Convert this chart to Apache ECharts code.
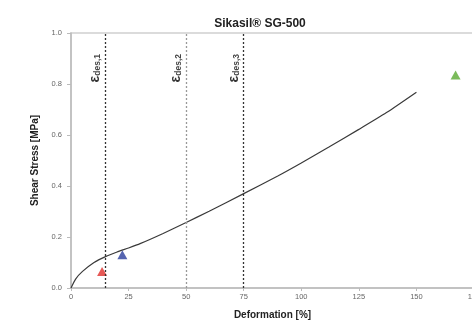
<!DOCTYPE html>
<html>
<head>
<meta charset="utf-8">
<script src="https://cdn.jsdelivr.net/npm/echarts@6/dist/echarts.min.js"></script>
<style>html,body{margin:0;padding:0;background:#fff}#c{width:472px;height:325px}</style>
</head>
<body>
<div id="c"></div>
<script>
var curveX = [0, 2, 5, 10, 15, 20, 25, 30, 40, 50, 60, 75, 90, 100, 112, 125, 137, 150];
var curveY = [0, 0.035, 0.065, 0.1, 0.123, 0.141, 0.157, 0.174, 0.214, 0.257, 0.301, 0.37, 0.44, 0.49, 0.553, 0.622, 0.688, 0.768];
var desX = [15, 50, 75];
var desLabels = ['des,1', 'des,2', 'des,3'];
var desColors = ['#333', '#999', '#333'];
var pointsX = [13.5, 22.3, 167];
var pointsY = [0.065, 0.13, 0.835];
var pointColors = ['#e0302c', '#2b3d9c', '#5aaa32'];
var xTicks = [0, 25, 50, 75, 100, 125, 150, 175];
var yTicks = [0, 0.2, 0.4, 0.6, 0.8, 1.0];

var FONT = 'Liberation Sans';
var chart = echarts.init(document.getElementById('c'));

var curve = curveX.map(function (x, i) { return [x, curveY[i]]; });

var markData = desX.map(function (x, i) {
  return [
    { coord: [x, 0] },
    {
      coord: [x, 1],
      lineStyle: { color: desColors[i], type: [2, 2], width: 1.3 },
      label: {
        show: true,
        position: 'insideEndTop',
        distance: [21, 3],
        formatter: '{e|ε}{s|' + desLabels[i] + '}',
        rich: {
          e: { fontSize: 14, fontWeight: 'bold', color: '#333', fontFamily: FONT },
          s: { fontSize: 8.5, fontWeight: 'bold', color: '#444', fontFamily: FONT, verticalAlign: 'bottom', padding: [5, 0, 0, 0] }
        }
      }
    }
  ];
});

var series = [
  {
    type: 'line',
    data: curve,
    smooth: 0.2,
    showSymbol: false,
    lineStyle: { color: '#3a3a3a', width: 1.2 },
    z: 3,
    markLine: {
      silent: true,
      symbol: 'none',
      animation: false,
      data: markData
    }
  }
];
pointsX.forEach(function (x, i) {
  series.push({
    type: 'scatter',
    data: [[x, pointsY[i]]],
    symbol: 'triangle',
    symbolSize: [10, 9],
    itemStyle: { color: pointColors[i] },
    z: 4
  });
});

chart.setOption({
  animation: false,
  title: {
    text: 'Sikasil® SG-500',
    left: 255,
    textAlign: 'center',
    top: 13,
    textStyle: { fontSize: 12, fontWeight: 'bold', color: '#222', fontFamily: FONT }
  },
  grid: {
    left: 71, top: 33, bottom: 37, right: -2,
    outerBoundsMode: 'none',
    containLabel: false,
    show: true, borderColor: '#cfcfcf', borderWidth: 1.5, backgroundColor: 'transparent'
  },
  xAxis: {
    type: 'value',
    min: xTicks[0], max: xTicks[xTicks.length - 1], interval: 25,
    name: 'Deformation [%]',
    nameLocation: 'middle',
    nameGap: 22,
    nameTextStyle: { fontSize: 10, fontWeight: 'bold', color: '#222', fontFamily: FONT },
    axisLine: { show: true, lineStyle: { color: '#bbb', width: 1.5 } },
    axisTick: { show: true, length: 3, lineStyle: { color: '#bbb' } },
    axisLabel: { fontSize: 7.5, color: '#666', margin: 5, fontFamily: FONT },
    splitLine: { show: false }
  },
  yAxis: {
    type: 'value',
    min: yTicks[0], max: yTicks[yTicks.length - 1], interval: 0.2,
    name: 'Shear Stress [MPa]',
    nameLocation: 'middle',
    nameGap: 27,
    nameTextStyle: { fontSize: 10, fontWeight: 'bold', color: '#222', fontFamily: FONT },
    axisLine: { show: true, lineStyle: { color: '#bbb', width: 1.5 } },
    axisTick: { show: true, length: 4, lineStyle: { color: '#bbb' } },
    axisLabel: { fontSize: 7.5, color: '#666', margin: 9, fontFamily: FONT,
      formatter: function (v) { return v.toFixed(1); } },
    splitLine: { show: false }
  },
  series: series
});
</script>
</body>
</html>
